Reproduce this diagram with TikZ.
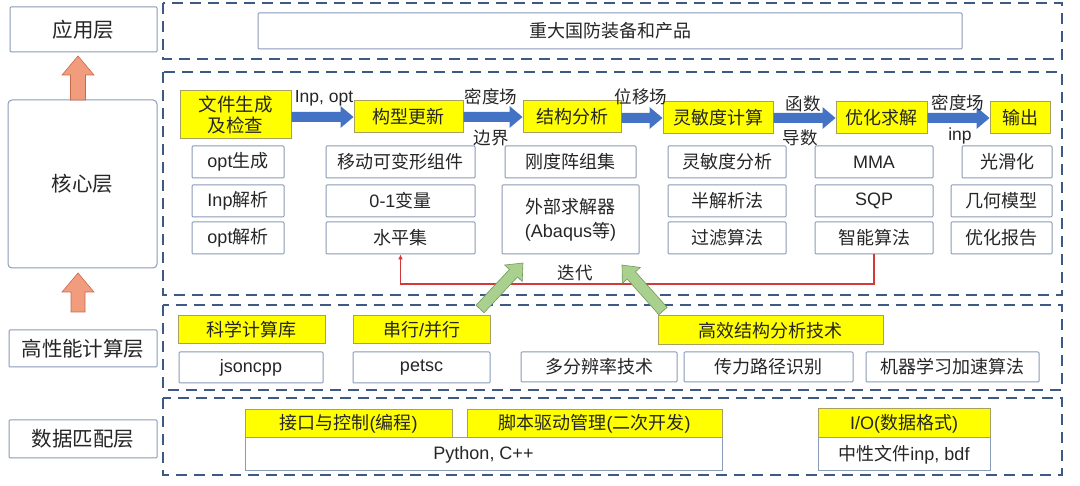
\documentclass[tikz,border=0pt]{standalone}
\usepackage{fontspec}
\setmainfont{Noto Sans CJK SC}
\newfontfamily\latf{Liberation Sans}
\newcommand\lt[1]{{\latf #1}}
\usetikzlibrary{calc,arrows.meta}
\definecolor{dashc}{HTML}{3D5A87}
\definecolor{boxc}{HTML}{8A9BB8}
\definecolor{ylw}{HTML}{FFFF00}
\definecolor{ylwb}{HTML}{A8A060}
\definecolor{txt}{HTML}{262626}
\definecolor{bluearr}{HTML}{4472C4}
\definecolor{salm}{HTML}{F29C7E}
\definecolor{salmb}{HTML}{C8694C}
\definecolor{grn}{HTML}{A9D08E}
\definecolor{grnb}{HTML}{6F9A5A}
\definecolor{redl}{HTML}{D03A3A}
\newcommand\bx[7]{\node[#1, minimum width={(#5-#3)*1pt}, minimum height={(#6-#4)*1pt}] (#2) at ({(#3+#5)/2},{(#4+#6)/2}) {#7};}
\newcommand\fatarrow[6]{%
  \coordinate (fah) at ($(#3)!#6!(#2)$);
  \path[#1] ($(#2)!#4!90:(#3)$) -- ($(fah)!#4!90:(#3)$) -- ($(fah)!#5!90:(#3)$) -- (#3)
    -- ($(fah)!#5!-90:(#3)$) -- ($(fah)!#4!-90:(#3)$) -- ($(#2)!#4!-90:(#3)$) -- cycle;}
\begin{document}
\begin{tikzpicture}[x=1pt, y=-1pt, text=txt,
  font=\fontsize{18}{22}\selectfont,
  wbox/.style={draw=boxc, line width=1pt, fill=white, inner sep=0pt, align=center, rounded corners=1pt},
  ybox/.style={draw=ylwb, line width=1pt, fill=ylw, inner sep=0pt, align=center},
  layer/.style={wbox, font=\fontsize{20.5}{24}\selectfont},
  dashbox/.style={draw=dashc, line width=2.4pt, dash pattern=on 11pt off 7pt},
  lab/.style={inner sep=0pt, font=\fontsize{17.5}{20}\selectfont}]
\useasboundingbox (0,0) rectangle (1080,486);
\fill[white] (0,0) rectangle (1080,486);

% dashed layer regions
\draw[dashbox] (163,3) rectangle (1062,59);
\draw[dashbox] (163,72) rectangle (1062,295);
\draw[dashbox] (163,305) rectangle (1062,390);
\draw[dashbox] (163,398) rectangle (1062,475);

% left layer labels
\bx{layer}{app}{10}{7}{157}{52}{应用层}
\bx{layer, rounded corners=4pt}{core}{8}{100}{157}{268}{核心层}
\bx{layer}{hpc}{9}{330}{157}{367}{高性能计算层}
\bx{layer}{data}{9}{420}{157}{458}{数据匹配层}

\coordinate (a1s) at (78,100);
\coordinate (a1e) at (78,56);
\coordinate (a2s) at (78,312);
\coordinate (a2e) at (78,273);
\fatarrow{fill=salm, draw=salmb, line width=0.6pt}{a1s}{a1e}{7.5pt}{16pt}{19pt}
\fatarrow{fill=salm, draw=salmb, line width=0.6pt}{a2s}{a2e}{7pt}{16pt}{19pt}

% application layer
\bx{wbox}{zd}{258}{13}{962}{49}{重大国防装备和产品}

% core: yellow steps
\bx{ybox, font=\fontsize{18.5}{21}\selectfont}{f1}{180}{91}{291}{139}{文件生成\\及检查}
\bx{ybox}{f2}{354}{101}{463}{133}{构型更新}
\bx{ybox}{f3}{523}{101}{621}{133}{结构分析}
\bx{ybox}{f4}{663}{102}{773}{134}{灵敏度计算}
\bx{ybox}{f5}{836}{102}{927}{134}{优化求解}
\bx{ybox}{f6}{990}{102}{1050}{134}{输出}

\coordinate (b1) at (f1.east |- f2.west);
\coordinate (b2) at (f2.east |- f3.west);
\coordinate (b3) at (f3.east |- f4.west);
\coordinate (b4) at (f4.east |- f5.west);
\coordinate (b5) at (f5.east |- f6.west);
\fatarrow{fill=bluearr}{b1}{f2.west}{5pt}{11pt}{13pt}
\fatarrow{fill=bluearr}{b2}{f3.west}{5pt}{11pt}{13pt}
\fatarrow{fill=bluearr}{b3}{f4.west}{5pt}{11pt}{13pt}
\fatarrow{fill=bluearr}{b4}{f5.west}{5pt}{11pt}{13pt}
\fatarrow{fill=bluearr}{b5}{f6.west}{5pt}{11pt}{13pt}

\node[lab] (l1) at (324,98) {\lt{Inp, opt}};
\node[lab] (l2) at (491,97) {密度场};
\node[lab] (l3) at (491,138) {边界};
\node[lab] (l4) at (641,97) {位移场};
\node[lab] (l5) at (803,104) {函数};
\node[lab] (l6) at (800,138) {导数};
\node[lab] (l7) at (958,103) {密度场};
\node[lab] (l8) at (960,136) {\lt{inp}};

% core: white sub-boxes
\bx{wbox}{c11}{192}{146}{284}{178}{\lt{opt}生成}
\bx{wbox}{c12}{192}{185}{284}{217}{\lt{Inp}解析}
\bx{wbox}{c13}{192}{222}{284}{254}{\lt{opt}解析}
\bx{wbox}{c21}{326}{146}{475}{178}{移动可变形组件}
\bx{wbox}{c22}{326}{185}{475}{217}{\lt{0-1}变量}
\bx{wbox}{c23}{326}{222}{475}{254}{水平集}
\bx{wbox}{c31}{505}{146}{636}{178}{刚度阵组集}
\bx{wbox, font=\fontsize{18}{24}\selectfont}{c32}{502}{185}{639}{254}{外部求解器\\\lt{(Abaqus}等\lt{)}}
\bx{wbox}{c41}{668}{146}{786}{178}{灵敏度分析}
\bx{wbox}{c42}{668}{185}{786}{217}{半解析法}
\bx{wbox}{c43}{668}{222}{786}{254}{过滤算法}
\bx{wbox}{c51}{815}{146}{933}{178}{\lt{MMA}}
\bx{wbox}{c52}{815}{185}{933}{217}{\lt{SQP}}
\bx{wbox}{c53}{815}{222}{933}{254}{智能算法}
\bx{wbox}{c61}{962}{146}{1052}{178}{光滑化}
\bx{wbox}{c62}{951}{185}{1052}{217}{几何模型}
\bx{wbox}{c63}{951}{222}{1052}{254}{优化报告}

% iteration loop
\draw[redl, line width=1.3pt, -{Latex[length=5pt,width=5pt]}] (c53.south) -- (c53.south |- 0,284) -| (c23.south);
\node[lab] (it) at (575,273) {迭代};

% HPC layer
\bx{ybox}{h1}{178}{316}{325}{344}{科学计算库}
\bx{ybox}{h2}{353}{316}{490}{344}{串行\lt{/}并行}
\bx{ybox}{h3}{658}{316}{883}{345}{高效结构分析技术}
\bx{wbox}{h4}{179}{352}{323}{383}{\lt{jsoncpp}}
\bx{wbox}{h5}{353}{352}{490}{383}{\lt{petsc}}
\bx{wbox}{h6}{521}{352}{677}{382}{多分辨率技术}
\bx{wbox}{h7}{684}{352}{853}{382}{传力路径识别}
\bx{wbox}{h8}{866}{352}{1039}{382}{机器学习加速算法}

\coordinate (g1s) at (480,309);
\coordinate (g1e) at (523,263);
\coordinate (g2s) at (663,311);
\coordinate (g2e) at (622,265);
\fatarrow{fill=grn, draw=grnb, line width=0.6pt}{g1s}{g1e}{5.5pt}{12pt}{14pt}
\fatarrow{fill=grn, draw=grnb, line width=0.6pt}{g2s}{g2e}{5.5pt}{12pt}{14pt}

% data layer
\bx{wbox, rounded corners=0pt}{d1}{245}{438}{722}{471}{\lt{Python, C++}}
\bx{wbox, rounded corners=0pt}{d2}{818}{438}{990}{471}{中性文件\lt{inp, bdf}}
\bx{ybox}{d3}{245}{410}{452}{438}{接口与控制\lt{(}编程\lt{)}}
\bx{ybox}{d4}{467}{410}{722}{438}{脚本驱动管理\lt{(}二次开发\lt{)}}
\bx{ybox}{d5}{818}{409}{990}{438}{\lt{I/O(}数据格式\lt{)}}
\end{tikzpicture}
\end{document}
